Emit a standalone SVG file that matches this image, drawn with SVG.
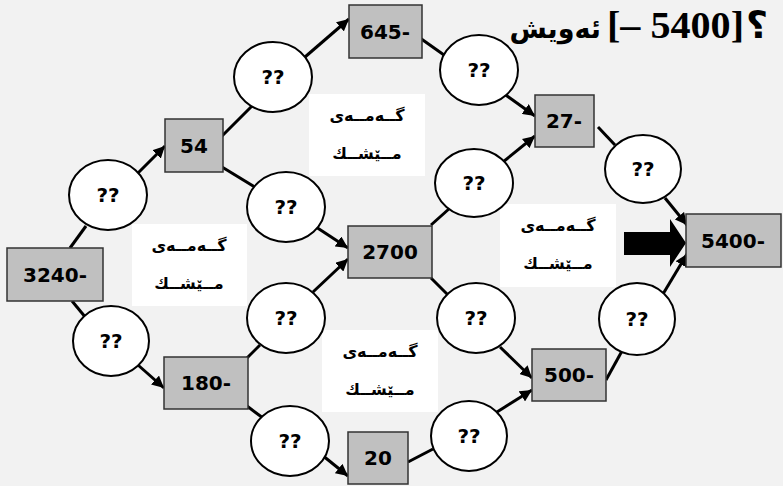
<svg xmlns="http://www.w3.org/2000/svg" width="783" height="486" viewBox="0 0 783 486">
<style>
.bg{fill:#f2f2f2}
.box{fill:#c0c0c0;stroke:#333;stroke-width:1.5}
.circ{fill:#fff;stroke:#000;stroke-width:2}
.lbl{fill:#fff}
.t{font-family:"DejaVu Sans",sans-serif;font-weight:bold;font-size:20px;fill:#000;text-anchor:middle}
.ar{font-family:"DejaVu Sans",sans-serif;font-weight:bold;font-size:16px;fill:#000;text-anchor:middle}
.c line{stroke:#000;stroke-width:3}
.title{font-family:"Liberation Serif","DejaVu Serif","DejaVu Sans",serif;font-weight:bold;font-size:38px;fill:#000}
.tw{font-family:"DejaVu Sans",sans-serif;font-weight:bold;font-size:27px;fill:#000}
</style>
<defs>
<marker id="ah" markerUnits="userSpaceOnUse" markerWidth="14" markerHeight="12" refX="12" refY="6" orient="auto">
<path d="M0,0 L12,6 L0,12 Z" fill="#000"/>
</marker>
</defs>
<rect class="bg" x="0" y="0" width="783" height="486"/>
<g id="title">
<text class="tw" x="601" y="38" text-anchor="end">ئەویش</text>
<text class="title" x="607" y="38" direction="ltr" textLength="137" lengthAdjust="spacingAndGlyphs">[– 5400]</text>
<text class="title" x="746" y="38">؟</text>
</g>
<g class="c" id="connectors">
<line x1="70" y1="248" x2="86" y2="226"/>
<line x1="138" y1="173" x2="165" y2="146" marker-end="url(#ah)"/>
<line x1="72" y1="301" x2="86" y2="318"/>
<line x1="138" y1="365" x2="164" y2="388" marker-end="url(#ah)"/>
<line x1="222" y1="136" x2="252" y2="106"/>
<line x1="305" y1="57" x2="349" y2="19" marker-end="url(#ah)"/>
<line x1="222" y1="167" x2="258" y2="189"/>
<line x1="316" y1="227" x2="348" y2="248" marker-end="url(#ah)"/>
<line x1="247" y1="358" x2="260" y2="345"/>
<line x1="313" y1="292" x2="348" y2="259" marker-end="url(#ah)"/>
<line x1="247" y1="406" x2="263" y2="418"/>
<line x1="322" y1="455" x2="348" y2="476" marker-end="url(#ah)"/>
<line x1="420" y1="38" x2="444" y2="55"/>
<line x1="503" y1="93" x2="535" y2="116" marker-end="url(#ah)"/>
<line x1="431" y1="225" x2="450" y2="208"/>
<line x1="503" y1="162" x2="535" y2="136" marker-end="url(#ah)"/>
<line x1="431" y1="278" x2="448" y2="295"/>
<line x1="500" y1="347" x2="532" y2="378" marker-end="url(#ah)"/>
<line x1="408" y1="462" x2="433" y2="449"/>
<line x1="497" y1="412" x2="532" y2="390" marker-end="url(#ah)"/>
<line x1="598" y1="127" x2="615" y2="145"/>
<line x1="665" y1="198" x2="687" y2="225" marker-end="url(#ah)"/>
<line x1="606" y1="380" x2="622" y2="351"/>
<line x1="663" y1="294" x2="687" y2="254" marker-end="url(#ah)"/>
</g>
<g id="bigarrow">
<path d="M624,232 L670,232 L670,219 L686,243 L670,267 L670,255 L624,255 Z" fill="#000"/>
</g>
<g id="label1"><rect class="lbl" x="132" y="224" width="115" height="82"/><text class="ar" x="189" y="251">گــەمــەی</text><text class="ar" x="189" y="289">مــێشــك</text></g>
<g id="label2"><rect class="lbl" x="309" y="94" width="116" height="82"/><text class="ar" x="367" y="121">گــەمــەی</text><text class="ar" x="367" y="159">مــێشــك</text></g>
<g id="label3"><rect class="lbl" x="322" y="330" width="116" height="82"/><text class="ar" x="380" y="357">گــەمــەی</text><text class="ar" x="380" y="395">مــێشــك</text></g>
<g id="label4"><rect class="lbl" x="500" y="204" width="116" height="83"/><text class="ar" x="558" y="231">گــەمــەی</text><text class="ar" x="558" y="269">مــێشــك</text></g>
<g id="n3240"><rect class="box" x="7" y="248" width="96" height="53"/><text class="t" x="55" y="282">3240-</text></g>
<g id="n54"><rect class="box" x="165" y="119" width="58" height="53"/><text class="t" x="194" y="153">54</text></g>
<g id="n645"><rect class="box" x="349" y="5" width="73" height="53"/><text class="t" x="385" y="39">645-</text></g>
<g id="n27"><rect class="box" x="535" y="95" width="59" height="52"/><text class="t" x="564" y="128">27-</text></g>
<g id="n2700"><rect class="box" x="348" y="226" width="84" height="52"/><text class="t" x="390" y="259">2700</text></g>
<g id="n5400"><rect class="box" x="686" y="214" width="95" height="53"/><text class="t" x="733" y="248">5400-</text></g>
<g id="n180"><rect class="box" x="164" y="357" width="84" height="52"/><text class="t" x="206" y="390">180-</text></g>
<g id="n20"><rect class="box" x="348" y="432" width="60" height="52"/><text class="t" x="378" y="465">20</text></g>
<g id="n500"><rect class="box" x="532" y="349" width="74" height="52"/><text class="t" x="569" y="382">500-</text></g>
<g id="q1"><ellipse class="circ" cx="108" cy="195" rx="39" ry="35"/><text class="t" x="108" y="202">??</text></g>
<g id="q2"><ellipse class="circ" cx="111" cy="341" rx="38" ry="35"/><text class="t" x="111" y="348">??</text></g>
<g id="q3"><ellipse class="circ" cx="273" cy="77" rx="39" ry="35"/><text class="t" x="273" y="84">??</text></g>
<g id="q4"><ellipse class="circ" cx="286" cy="207" rx="39" ry="35"/><text class="t" x="286" y="214">??</text></g>
<g id="q5"><ellipse class="circ" cx="286" cy="318" rx="39" ry="35"/><text class="t" x="286" y="325">??</text></g>
<g id="q6"><ellipse class="circ" cx="290" cy="441" rx="39" ry="35"/><text class="t" x="290" y="448">??</text></g>
<g id="q7"><ellipse class="circ" cx="479" cy="70" rx="39" ry="35"/><text class="t" x="479" y="77">??</text></g>
<g id="q8"><ellipse class="circ" cx="474" cy="183" rx="39" ry="34"/><text class="t" x="474" y="190">??</text></g>
<g id="q9"><ellipse class="circ" cx="476" cy="318" rx="39" ry="35"/><text class="t" x="476" y="325">??</text></g>
<g id="q10"><ellipse class="circ" cx="469" cy="436" rx="38" ry="35"/><text class="t" x="469" y="443">??</text></g>
<g id="q11"><ellipse class="circ" cx="643" cy="169" rx="38" ry="34"/><text class="t" x="643" y="176">??</text></g>
<g id="q12"><ellipse class="circ" cx="637" cy="319" rx="38" ry="36"/><text class="t" x="637" y="326">??</text></g>
</svg>
